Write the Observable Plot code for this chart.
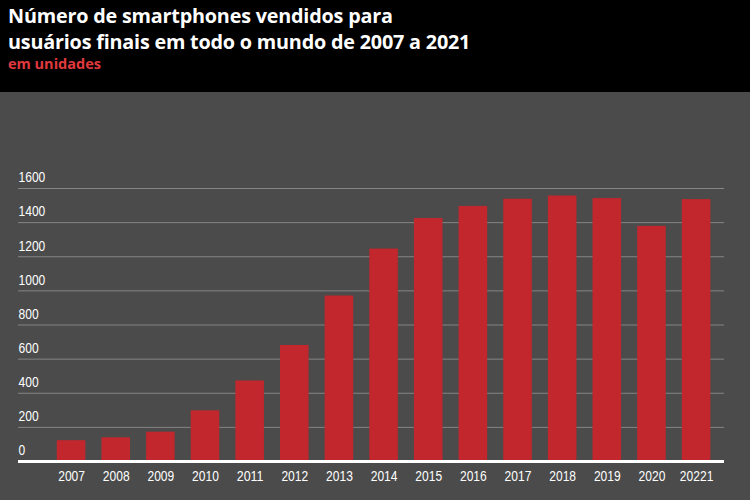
<!DOCTYPE html>
<html><head><meta charset="utf-8">
<script src="https://cdn.jsdelivr.net/npm/d3@7"></script>
<script src="https://cdn.jsdelivr.net/npm/@observablehq/plot@0.6"></script>
<style>
body{margin:0;background:#4b4b4b;width:750px;height:500px;overflow:hidden}
#header{background:#000;height:92px;box-sizing:border-box;padding:3px 0 0 8px;font-family:"Open Sans",sans-serif;}
#header h1{margin:0;color:#fff;font-size:19.8px;font-weight:700;line-height:26px;letter-spacing:-0.2px}
#header .sub{color:#e0393e;font-size:14.5px;font-weight:700;line-height:18px}
#chart{height:408px}
</style></head>
<body>
<div id="header">
  <h1>Número de smartphones vendidos para<br>usuários finais em todo o mundo de 2007 a 2021</h1>
  <div class="sub">em unidades</div>
</div>
<div id="chart"></div>
<script>
const years = ["2007","2008","2009","2010","2011","2012","2013","2014","2015","2016","2017","2018","2019","2020","20221"];
const values = [122, 139, 172, 297, 472, 680, 970, 1245, 1424, 1495, 1537, 1556, 1541, 1378, 1535];
const yTicks = [0, 200, 400, 600, 800, 1000, 1200, 1400, 1600];

const data = years.map((year, i) => ({year, value: values[i]}));

const chart = Plot.plot({
  width: 750, height: 408,
  marginTop: 96, marginBottom: 39, marginLeft: 18, marginRight: 26,
  style: {background: "transparent", color: "#fff", fontFamily: "'Liberation Sans',Arial,sans-serif", fontSize: "15px"},
  x: {domain: years, paddingInner: 0.36, paddingOuter: 0.587, align: 0.74, round: false, label: null},
  y: {domain: [0, 1600], label: null},
  marks: [
    Plot.ruleY(yTicks.filter(d => d > 0), {stroke: "#858585", strokeWidth: 1}),
    Plot.barY(data, {x: "year", y: "value", fill: "#c1272d"}),
    Plot.ruleY([0], {stroke: "#fff", strokeWidth: 3}),
    Plot.axisX({tickSize: 0, tickPadding: 9, label: null, fill: "#fff"}),
    Plot.axisY(yTicks, {tickSize: 0, tickPadding: 0, textAnchor: "start", dy: -11, tickFormat: "d", label: null, fill: "#fff"})
  ]
});
// condense tick label glyphs to match the narrow typeface of the original
chart.querySelectorAll('g[aria-label="x-axis tick label"] text, g[aria-label="y-axis tick label"] text').forEach(t => {
  const n = t.textContent.length;
  t.setAttribute("textLength", (n * 6.7).toFixed(1));
  t.setAttribute("lengthAdjust", "spacingAndGlyphs");
});
document.getElementById("chart").append(chart);
</script>
</body></html>
